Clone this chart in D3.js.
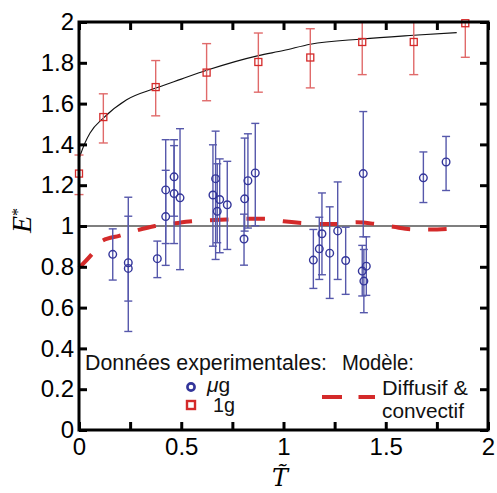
<!DOCTYPE html>
<html><head><meta charset="utf-8">
<script src="https://cdn.jsdelivr.net/npm/d3@7"></script>
<style>body{margin:0;background:#fff}svg{display:block}</style>
</head><body>
<script>
// ---- data ----
const xTickValues = [0,0.25,0.5,0.75,1,1.25,1.5,1.75,2];
const xTickLabels = {"0":"0","0.5":"0.5","1":"1","1.5":"1.5","2":"2"};
const yTickValues = [0,0.2,0.4,0.6,0.8,1,1.2,1.4,1.6,1.8,2];
const yTickLabels = ["0","0.2","0.4","0.6","0.8","1","1.2","1.4","1.6","1.8","2"];

// 1g (red squares)
const g1T  = [0, 0.119, 0.375, 0.624, 0.877, 1.131, 1.385, 1.637, 1.889];
const g1E  = [1.257, 1.534, 1.681, 1.752, 1.804, 1.826, 1.902, 1.902, 1.994];
const g1Lo = [1.154, 1.407, 1.540, 1.614, 1.656, 1.677, 1.742, 1.742, 1.827];
const g1Hi = [1.348, 1.648, 1.811, 1.894, 1.946, 1.967, 2.0, 2.0, 2.0];

// micro-g (blue circles)
const ugT  = [0.165,0.241,0.241,0.383,0.424,0.424,0.465,0.465,0.494,0.655,0.668,0.676,0.688,0.725,0.807,0.810,0.826,0.862,1.146,1.175,1.188,1.226,1.265,1.304,1.390,1.385,1.405,1.393,1.684,1.795];
const ugE  = [0.861,0.820,0.792,0.840,1.177,1.046,1.241,1.159,1.138,1.152,1.232,1.072,1.130,1.104,0.936,1.133,1.222,1.260,0.833,0.888,0.962,0.867,0.976,0.831,1.257,0.779,0.803,0.730,1.236,1.314];
const ugLo = [0.735,0.632,0.483,0.747,0.914,0.807,1.048,0.914,0.786,0.901,0.836,0.918,0.869,0.885,0.808,0.975,0.990,1.001,0.694,0.738,0.761,0.645,0.738,0.665,0.947,0.657,0.660,0.575,1.115,1.174];
const ugHi = [0.986,1.048,1.141,0.926,1.423,1.273,1.423,1.394,1.477,1.398,1.465,1.305,1.329,1.317,1.058,1.431,1.452,1.503,0.983,1.043,1.162,1.094,1.216,0.994,1.561,0.905,0.947,0.885,1.363,1.439];

// black fit curve
const fitT = [0, 0.029, 0.054, 0.119, 0.233, 0.375, 0.5, 0.624, 0.877, 1.0, 1.131, 1.384, 1.637, 1.847];
const fitE = [1.33, 1.407, 1.456, 1.529, 1.619, 1.676, 1.72, 1.763, 1.835, 1.86, 1.891, 1.917, 1.935, 1.948];

// model (red dashed)
const modT = [0, 0.062, 0.111, 0.2, 0.282, 0.372, 0.461, 0.551, 0.641, 0.722, 0.81, 0.91, 0.999, 1.089, 1.178, 1.268, 1.358, 1.447, 1.537, 1.627, 1.716, 1.806];
const modE = [0.795, 0.861, 0.926, 0.953, 0.978, 1.0, 1.012, 1.023, 1.028, 1.032, 1.035, 1.035, 1.023, 1.015, 1.01, 1.01, 1.018, 1.01, 0.996, 0.984, 0.983, 0.986];

const refLine = 1;

// ---- drawing ----
const W = 497, H = 493;
const L = 79, R = 488, T = 22, B = 430;
const svg = d3.select("body").append("svg").attr("width", W).attr("height", H);
const x = d3.scaleLinear().domain([0,2]).range([L,R]);
const y = d3.scaleLinear().domain([0,2]).range([B,T]);

const red = "#d42a2a", redBar = "#e06a6a", blue = "#33359a", blueBar = "#5658ab";
const sans = "'Liberation Sans', Arial, Helvetica, sans-serif";
const serif = "'DejaVu Serif', 'Liberation Serif', serif";

// reference line
svg.append("line").attr("x1", x(0)).attr("x2", x(2)).attr("y1", y(refLine)).attr("y2", y(refLine))
  .attr("stroke", "#000").attr("stroke-width", 1.2);

// fit curve
const lineGen = d3.line().x(d => x(d[0])).y(d => y(d[1])).curve(d3.curveMonotoneX);
svg.append("path").datum(fitT.map((t,i)=>[t,fitE[i]])).attr("d", lineGen)
  .attr("fill","none").attr("stroke","#111").attr("stroke-width",1.1);

// model curve
svg.append("path").datum(modT.map((t,i)=>[t,modE[i]])).attr("d", lineGen)
  .attr("fill","none").attr("stroke",red).attr("stroke-width",4).attr("stroke-dasharray","18.5,18");

// error bars helper
function errBars(Ts, Lo, Hi, color, cap, sw) {
  const g = svg.append("g").attr("stroke", color).attr("stroke-width", sw).attr("fill","none");
  Ts.forEach((t,i) => {
    const cx = x(t);
    g.append("line").attr("x1",cx).attr("x2",cx).attr("y1",y(Lo[i])).attr("y2",y(Hi[i]));
    g.append("line").attr("x1",cx-cap/2).attr("x2",cx+cap/2).attr("y1",y(Lo[i])).attr("y2",y(Lo[i]));
    g.append("line").attr("x1",cx-cap/2).attr("x2",cx+cap/2).attr("y1",y(Hi[i])).attr("y2",y(Hi[i]));
  });
}
errBars(ugT, ugLo, ugHi, blueBar, 8, 1.4);
errBars(g1T, g1Lo, g1Hi, redBar, 9, 1.4);

// markers
svg.append("g").selectAll("circle").data(ugT).join("circle")
  .attr("cx", (d)=>x(d)).attr("cy", (d,i)=>y(ugE[i])).attr("r", 3.8)
  .attr("fill","none").attr("stroke", blue).attr("stroke-width", 1.4);
svg.append("g").selectAll("rect").data(g1T).join("rect")
  .attr("x", d=>x(d)-3.5).attr("y", (d,i)=>y(g1E[i])-3.5).attr("width",7).attr("height",7)
  .attr("fill","none").attr("stroke", red).attr("stroke-width", 1.3);

// axes
function styleAxis(g) {
  g.select(".domain").remove();
  g.selectAll(".tick line").attr("stroke","#000").attr("stroke-width",3);
  g.selectAll(".tick text").attr("fill","#000").attr("font-family",sans).attr("font-size",24);
}
svg.append("g").attr("transform",`translate(0,${B})`)
  .call(d3.axisBottom(x).tickValues(xTickValues).tickSizeInner(-8).tickSizeOuter(0).tickPadding(8)
    .tickFormat(d => xTickLabels[String(d)] || ""))
  .call(styleAxis);
svg.append("g").attr("transform",`translate(0,${T})`)
  .call(d3.axisTop(x).tickValues(xTickValues).tickSizeInner(-8).tickSizeOuter(0).tickFormat(""))
  .call(styleAxis);
svg.append("g").attr("transform",`translate(${L},0)`)
  .call(d3.axisLeft(y).tickValues(yTickValues).tickSizeInner(-8).tickSizeOuter(0).tickPadding(5)
    .tickFormat((d,i) => yTickLabels[i]))
  .call(styleAxis);
svg.append("g").attr("transform",`translate(${R},0)`)
  .call(d3.axisRight(y).tickValues(yTickValues).tickSizeInner(-8).tickSizeOuter(0).tickFormat(""))
  .call(styleAxis);
svg.append("rect").attr("x",L).attr("y",T).attr("width",R-L).attr("height",B-T)
  .attr("fill","none").attr("stroke","#000").attr("stroke-width",3);

// axis titles
const tSerif = "'Liberation Serif', 'Times New Roman', serif";
const yt = svg.append("text").attr("transform","translate(31,233) rotate(-90)")
  .attr("font-family",tSerif).attr("font-style","italic").attr("font-size",28).attr("fill","#000");
yt.append("tspan").text("E");
yt.append("tspan").attr("dy",-8).attr("font-size",16).attr("font-style","normal").text("*");
svg.append("text").attr("x",280).attr("y",486).attr("text-anchor","middle")
  .attr("font-family",serif).attr("font-style","italic").attr("font-size",24).attr("fill","#000").text("T\u0303");

// legend
function ltext(tx, x0, yb, len, fs) {
  return svg.append("text").attr("x",x0).attr("y",yb).attr("font-family",sans).attr("font-size",fs)
    .attr("fill","#111").attr("textLength",len).attr("lengthAdjust","spacingAndGlyphs").text(tx);
}
ltext("Données experimentales:", 85, 370, 242, 22);
ltext("Modèle:", 342, 370, 72, 22);
svg.append("circle").attr("cx",191).attr("cy",387).attr("r",3.6).attr("fill","none")
  .attr("stroke",blue).attr("stroke-width",2.6);
svg.append("rect").attr("x",187).attr("y",401).attr("width",8).attr("height",8).attr("fill","none")
  .attr("stroke",red).attr("stroke-width",2.4);
const mu = svg.append("text").attr("x",207).attr("y",392).attr("font-family",sans).attr("font-size",21).attr("fill","#111");
mu.append("tspan").attr("font-style","italic").text("μ");
mu.append("tspan").text("g");
ltext("1g", 213, 412, 22, 20);
svg.append("line").attr("x1",322).attr("x2",375).attr("y1",397).attr("y2",397)
  .attr("stroke",red).attr("stroke-width",4).attr("stroke-dasharray","20,16.5");
ltext("Diffusif &", 382, 395, 86, 21);
ltext("convectif", 382, 418, 82, 21);
</script>
</body></html>
